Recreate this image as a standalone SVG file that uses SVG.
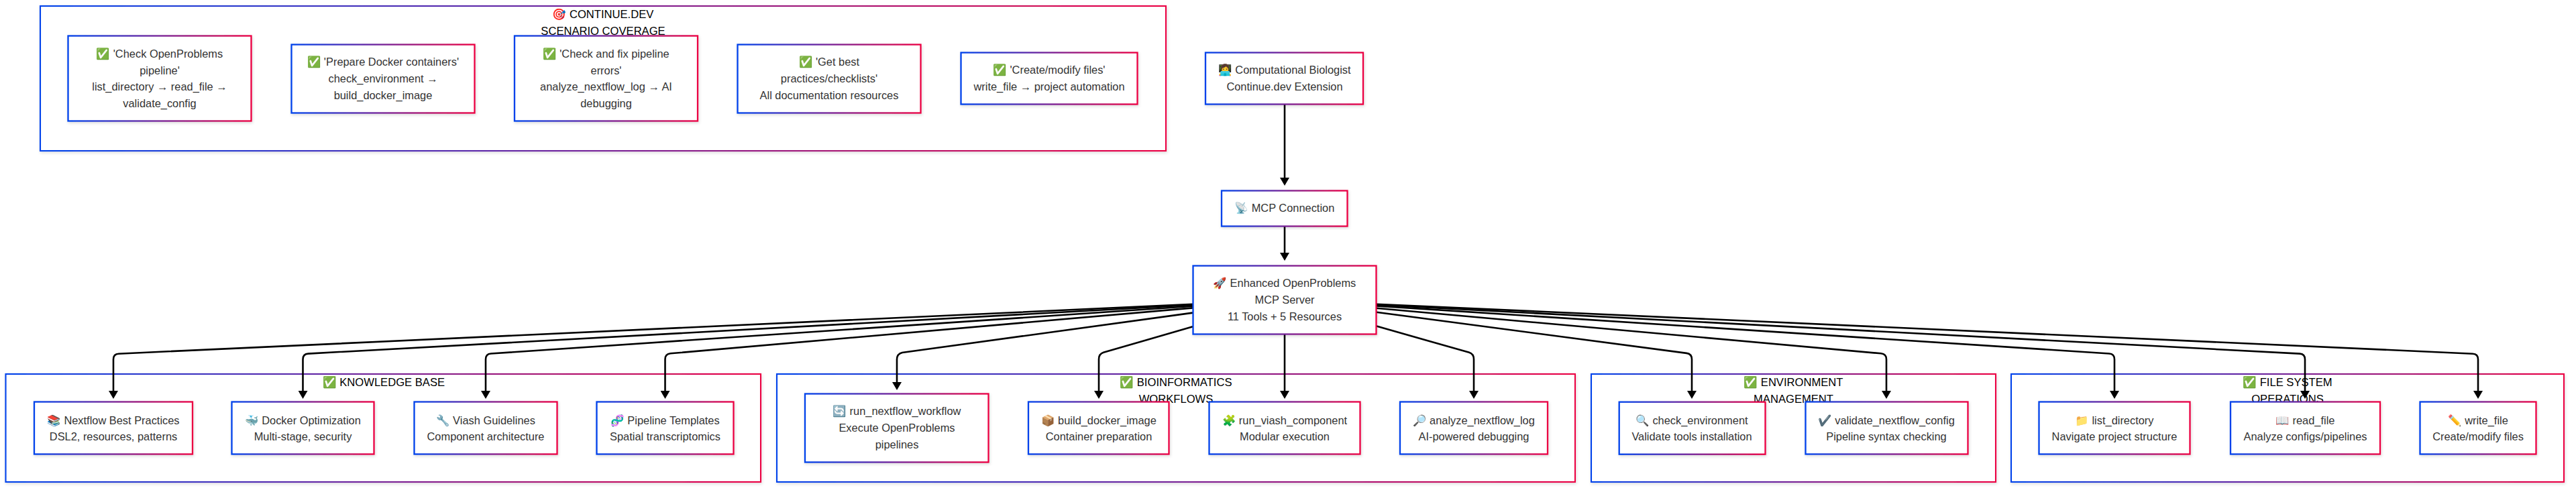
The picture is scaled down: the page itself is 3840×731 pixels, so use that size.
<svg xmlns="http://www.w3.org/2000/svg" width="3840" height="731" viewBox="0 0 3840 731">
<style>
text{font-family:"Liberation Sans",Arial,"Noto Color Emoji",sans-serif;font-size:16.4px;text-anchor:middle}
.n text{fill:#333}
.t{fill:#000;font-size:16.6px}
.b{fill:#fff;stroke:url(#g);stroke-width:2.3;filter:url(#s)}
.c{fill:#fff;stroke:url(#g);stroke-width:2.1;filter:url(#s)}
.e{fill:none;stroke:#000;stroke-width:2.6;marker-end:url(#a)}
</style>
<defs>
<linearGradient id="g" x1="0" y1="0" x2="1" y2="0"><stop offset="0" stop-color="#0042eb"/><stop offset="1" stop-color="#eb0042"/></linearGradient>
<filter id="s" x="-5%" y="-10%" width="110%" height="120%"><feDropShadow dx="1" dy="2" stdDeviation="2" flood-color="#000" flood-opacity=".14"/></filter>
<marker id="a" markerUnits="userSpaceOnUse" markerWidth="12" markerHeight="14" refX="2" refY="7" orient="auto" viewBox="0 0 12 14"><path d="M0,0L12,7L0,14z" fill="#000"/></marker>
</defs>
<rect width="3840" height="731" fill="#fff"/>
<g id="clusters">
<g id="cluster-continue"><rect class="c" x="60" y="9" width="1678" height="216"/><text class="t" x="899" y="27">🎯 CONTINUE.DEV</text><text class="t" x="899" y="52">SCENARIO COVERAGE</text></g>
<g id="cluster-knowledge"><rect class="c" x="8.5" y="558" width="1125.5" height="161"/><text class="t" x="572" y="576">✅ KNOWLEDGE BASE</text></g>
<g id="cluster-bio"><rect class="c" x="1158" y="558" width="1190" height="161"/><text class="t" x="1753" y="576">✅ BIOINFORMATICS</text><text class="t" x="1753" y="600.5">WORKFLOWS</text></g>
<g id="cluster-env"><rect class="c" x="2372" y="558" width="603" height="161"/><text class="t" x="2673.500" y="576">✅ ENVIRONMENT</text><text class="t" x="2673.500" y="600.5">MANAGEMENT</text></g>
<g id="cluster-fs"><rect class="c" x="2998" y="558" width="824" height="161"/><text class="t" x="3410" y="576">✅ FILE SYSTEM</text><text class="t" x="3410" y="600.5">OPERATIONS</text></g>
</g>
<g id="connectors">
<path class="e" d="M1915,156V267"/>
<path class="e" d="M1915,338V379"/>
<path class="e" d="M1778,453.800L177,527.700Q169,528 169,536V585"/>
<path class="e" d="M1778,455L459.500,527.600Q451.500,528 451.500,536V585"/>
<path class="e" d="M1778,456.800L732,527.500Q724,528 724,536V585"/>
<path class="e" d="M1778,459.400L999.500,527.300Q991.500,528 991.500,536V585"/>
<path class="e" d="M1778,466.600L1345,526Q1337,528 1337,536V572"/>
<path class="e" d="M1778,487.300L1645,525.800Q1638,528 1638,536V585"/>
<path class="e" d="M1915,499V585"/>
<path class="e" d="M2052,486.600L2190,525.800Q2197,528 2197,536V585"/>
<path class="e" d="M2052,465.700L2514,526.900Q2522,528 2522,536V585"/>
<path class="e" d="M2052,459.800L2804,527.300Q2812,528 2812,536V585"/>
<path class="e" d="M2052,456.400L3144,527.500Q3152,528 3152,536V585"/>
<path class="e" d="M2052,454.750L3428,527.600Q3436,528 3436,536V585"/>
<path class="e" d="M2052,453.700L3686,527.700Q3694,528 3694,536V585"/>
</g>
<g id="nodes">
<g class="n" id="s1"><rect class="b" x="101.500" y="53.500" width="273" height="127"/><text x="238" y="85.500">✅ 'Check OpenProblems</text><text x="238" y="110.500">pipeline'</text><text x="238" y="135">list_directory → read_file →</text><text x="238" y="160">validate_config</text></g>
<g class="n" id="s2"><rect class="b" x="434.500" y="66.500" width="273" height="102"/><text x="571" y="98">✅ 'Prepare Docker containers'</text><text x="571" y="123">check_environment →</text><text x="571" y="147.500">build_docker_image</text></g>
<g class="n" id="s3"><rect class="b" x="767" y="53.500" width="273" height="127"/><text x="903.500" y="85.500">✅ 'Check and fix pipeline</text><text x="903.500" y="110.500">errors'</text><text x="903.500" y="135">analyze_nextflow_log → AI</text><text x="903.500" y="160">debugging</text></g>
<g class="n" id="s4"><rect class="b" x="1099.500" y="66.500" width="273" height="102"/><text x="1236" y="98">✅ 'Get best</text><text x="1236" y="123">practices/checklists'</text><text x="1236" y="147.500">All documentation resources</text></g>
<g class="n" id="s5"><rect class="b" x="1432.500" y="78.500" width="263" height="77"/><text x="1564" y="110">✅ 'Create/modify files'</text><text x="1564" y="135">write_file → project automation</text></g>
<g class="n" id="user"><rect class="b" x="1797" y="78.500" width="235" height="77"/><text x="1915" y="110">👩‍💻 Computational Biologist</text><text x="1915" y="135">Continue.dev Extension</text></g>
<g class="n" id="mcp"><rect class="b" x="1821" y="284.500" width="187.500" height="53"/><text x="1915" y="316">📡 MCP Connection</text></g>
<g class="n" id="server"><rect class="b" x="1778.500" y="396.500" width="273" height="102"/><text x="1915" y="428">🚀 Enhanced OpenProblems</text><text x="1915" y="453">MCP Server</text><text x="1915" y="478">11 Tools + 5 Resources</text></g>
<g class="n" id="k1"><rect class="b" x="51" y="599.500" width="236" height="78"/><text x="169" y="632.500">📚 Nextflow Best Practices</text><text x="169" y="657">DSL2, resources, patterns</text></g>
<g class="n" id="k2"><rect class="b" x="345.500" y="599.500" width="212" height="78"/><text x="451.500" y="632.500">🐳 Docker Optimization</text><text x="451.500" y="657">Multi-stage, security</text></g>
<g class="n" id="k3"><rect class="b" x="617.500" y="599.500" width="213" height="78"/><text x="724" y="632.500">🔧 Viash Guidelines</text><text x="724" y="657">Component architecture</text></g>
<g class="n" id="k4"><rect class="b" x="889.500" y="599.500" width="204" height="78"/><text x="991.500" y="632.500">🧬 Pipeline Templates</text><text x="991.500" y="657">Spatial transcriptomics</text></g>
<g class="n" id="b1"><rect class="b" x="1200" y="587.500" width="273.500" height="102"/><text x="1337" y="619">🔄 run_nextflow_workflow</text><text x="1337" y="644">Execute OpenProblems</text><text x="1337" y="669">pipelines</text></g>
<g class="n" id="b2"><rect class="b" x="1533" y="599.500" width="209.500" height="78"/><text x="1638" y="632.500">📦 build_docker_image</text><text x="1638" y="657">Container preparation</text></g>
<g class="n" id="b3"><rect class="b" x="1802.500" y="599.500" width="225" height="78"/><text x="1915" y="632.500">🧩 run_viash_component</text><text x="1915" y="657">Modular execution</text></g>
<g class="n" id="b4"><rect class="b" x="2087" y="599.500" width="220" height="78"/><text x="2197" y="632.500">🔎 analyze_nextflow_log</text><text x="2197" y="657">AI-powered debugging</text></g>
<g class="n" id="e1"><rect class="b" x="2413.700" y="599.700" width="217.800" height="78"/><text x="2522" y="632.500">🔍 check_environment</text><text x="2522" y="657">Validate tools installation</text></g>
<g class="n" id="e2"><rect class="b" x="2691.500" y="599.500" width="242" height="78"/><text x="2812" y="632.500">✔️ validate_nextflow_config</text><text x="2812" y="657">Pipeline syntax checking</text></g>
<g class="n" id="f1"><rect class="b" x="3039.500" y="599.500" width="225" height="78"/><text x="3152" y="632.500">📁 list_directory</text><text x="3152" y="657">Navigate project structure</text></g>
<g class="n" id="f2"><rect class="b" x="3325" y="599.500" width="223" height="78"/><text x="3436.500" y="632.500">📖 read_file</text><text x="3436.500" y="657">Analyze configs/pipelines</text></g>
<g class="n" id="f3"><rect class="b" x="3607.500" y="599.500" width="173" height="78"/><text x="3694" y="632.500">✏️ write_file</text><text x="3694" y="657">Create/modify files</text></g>
</g>
</svg>
